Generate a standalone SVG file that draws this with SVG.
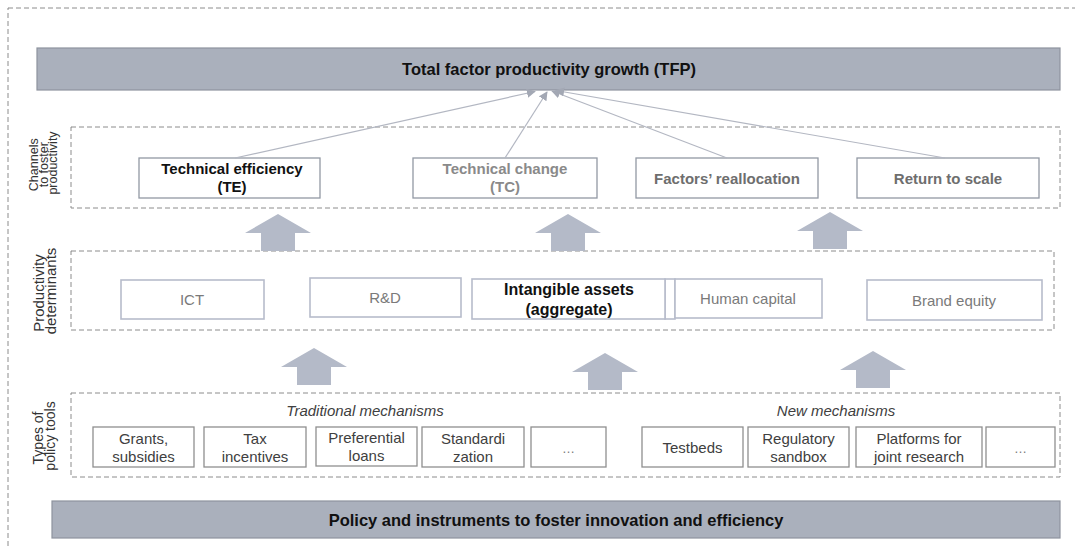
<svg xmlns="http://www.w3.org/2000/svg" width="1075" height="548" viewBox="0 0 1075 548">
  <style>
    text { font-family: "Liberation Sans", Arial, sans-serif; }
    .bar { fill: #aab0bc; stroke: #8e939e; stroke-width: 1.2; }
    .bar-label { font-size: 16.5px; font-weight: bold; fill: #111; text-anchor: middle; }
    .group { fill: none; stroke: #8c8c8c; stroke-width: 1; stroke-dasharray: 5 3; }
    .side { font-size: 13px; fill: #333; text-anchor: middle; }
    .channel { fill: #fff; stroke: #9299a4; stroke-width: 1.3; }
    .ch-text { font-size: 15px; font-weight: bold; text-anchor: middle; }
    .det { fill: #fff; stroke: #b7bccb; stroke-width: 1.6; }
    .det-text { font-size: 15px; fill: #7a7a7a; text-anchor: middle; }
    .tool { fill: #fff; stroke: #8f8f8f; stroke-width: 1.3; }
    .tool-text { font-size: 15px; fill: #404040; text-anchor: middle; }
    .dots { font-size: 13px; fill: #7a7a7a; text-anchor: middle; }
    .mech { font-size: 15px; font-style: italic; fill: #404040; text-anchor: middle; }
    .link { stroke: #b3b7c2; stroke-width: 1.2; fill: none; marker-end: url(#tip); }
    .block { fill: #b4bac8; }
  </style>
  <defs>
    <marker id="tip" viewBox="0 0 10 10" refX="9" refY="5" markerWidth="9" markerHeight="9" markerUnits="userSpaceOnUse" orient="auto">
      <path d="M0,0 L10,5 L0,10 z" fill="#a3a8b4"/>
    </marker>
  </defs>

  <!-- outer frame -->
  <rect x="8" y="8" width="1085" height="560" class="group"/>

  <!-- top result bar -->
  <g id="tfp">
    <rect x="37" y="48" width="1023" height="42" class="bar"/>
    <text x="549" y="75" class="bar-label">Total factor productivity growth (TFP)</text>
  </g>

  <!-- channels band -->
  <g id="channels">
    <rect x="71" y="127" width="989" height="81" class="group"/>
    <text class="side" transform="translate(0,163) rotate(-90)" style="font-size:12.5px">
      <tspan x="0" y="38">Channels</tspan>
      <tspan x="0" y="47.5">to foster</tspan>
      <tspan x="0" y="57">productivity</tspan>
    </text>
  </g>

  <g id="te">
    <rect x="139" y="158" width="181" height="40" class="channel"/>
    <text class="ch-text" fill="#111"><tspan x="232" y="174">Technical efficiency</tspan><tspan x="232" y="192">(TE)</tspan></text>
  </g>
  <g id="tc">
    <rect x="413" y="158" width="184" height="40" class="channel"/>
    <text class="ch-text" fill="#8a8a8a"><tspan x="505" y="174">Technical change</tspan><tspan x="505" y="192">(TC)</tspan></text>
  </g>
  <g id="reallocation">
    <rect x="636" y="158" width="182" height="40" class="channel"/>
    <text x="727" y="184" class="ch-text" fill="#6e6e6e">Factors’ reallocation</text>
  </g>
  <g id="scale">
    <rect x="857" y="158" width="182" height="40" class="channel"/>
    <text x="948" y="184" class="ch-text" fill="#6e6e6e">Return to scale</text>
  </g>

  <!-- determinants band -->
  <g id="determinants">
    <rect x="71" y="251" width="983" height="79" class="group"/>
    <text class="side" transform="translate(0,291) rotate(-90)" style="font-size:15px">
      <tspan x="0" y="44">Productivity</tspan>
      <tspan x="0" y="56">determinants</tspan>
    </text>
  </g>

  <g id="ict">
    <rect x="121" y="280" width="143" height="39" class="det"/>
    <text x="192" y="305" class="det-text">ICT</text>
  </g>
  <g id="rd">
    <rect x="310" y="278" width="151" height="39" class="det"/>
    <text x="385" y="303" class="det-text">R&amp;D</text>
  </g>
  <g id="intangible">
    <rect x="665" y="279" width="10" height="40" class="det"/>
    <rect x="472" y="279" width="193" height="40" class="det"/>
    <text class="ch-text" fill="#111" style="font-size:16px"><tspan x="569" y="295">Intangible assets</tspan><tspan x="569" y="314.5">(aggregate)</tspan></text>
  </g>
  <g id="human">
    <rect x="675" y="279" width="147" height="39" class="det"/>
    <text x="748" y="304" class="det-text">Human capital</text>
  </g>
  <g id="brand">
    <rect x="867" y="280" width="175" height="40" class="det"/>
    <text x="954" y="306" class="det-text">Brand equity</text>
  </g>

  <!-- policy tools band -->
  <g id="tools">
    <rect x="71" y="393" width="989" height="84" class="group"/>
    <text class="side" transform="translate(0,436) rotate(-90)" style="font-size:14px">
      <tspan x="0" y="43">Types of</tspan>
      <tspan x="0" y="55">policy tools</tspan>
    </text>
    <text x="365" y="416" class="mech">Traditional mechanisms</text>
    <text x="836" y="416" class="mech">New mechanisms</text>
  </g>

  <g id="grants">
    <rect x="93" y="427" width="101" height="40" class="tool"/>
    <text class="tool-text"><tspan x="143.5" y="444">Grants,</tspan><tspan x="143.5" y="462">subsidies</tspan></text>
  </g>
  <g id="tax">
    <rect x="204" y="427" width="102" height="40" class="tool"/>
    <text class="tool-text"><tspan x="255" y="444">Tax</tspan><tspan x="255" y="462">incentives</tspan></text>
  </g>
  <g id="loans">
    <rect x="316" y="427" width="101" height="39" class="tool"/>
    <text class="tool-text"><tspan x="366.5" y="443">Preferential</tspan><tspan x="366.5" y="461">loans</tspan></text>
  </g>
  <g id="standardization">
    <rect x="422" y="427" width="102" height="40" class="tool"/>
    <text class="tool-text"><tspan x="473" y="444">Standardi</tspan><tspan x="473" y="462">zation</tspan></text>
  </g>
  <g id="more-traditional">
    <rect x="531" y="427" width="75" height="40" class="tool"/>
    <text x="568.5" y="453" class="dots">…</text>
  </g>
  <g id="testbeds">
    <rect x="642" y="427" width="101" height="40" class="tool"/>
    <text x="692.5" y="453" class="tool-text">Testbeds</text>
  </g>
  <g id="sandbox">
    <rect x="748" y="427" width="101" height="40" class="tool"/>
    <text class="tool-text"><tspan x="798.5" y="444">Regulatory</tspan><tspan x="798.5" y="462">sandbox</tspan></text>
  </g>
  <g id="platforms">
    <rect x="856" y="427" width="126" height="40" class="tool"/>
    <text class="tool-text"><tspan x="919" y="444">Platforms for</tspan><tspan x="919" y="462">joint research</tspan></text>
  </g>
  <g id="more-new">
    <rect x="986" y="427" width="69" height="40" class="tool"/>
    <text x="1020.5" y="453" class="dots">…</text>
  </g>

  <!-- base bar -->
  <g id="policy">
    <rect x="52" y="501" width="1008" height="37" class="bar"/>
    <text x="556" y="526" class="bar-label">Policy and instruments to foster innovation and efficiency</text>
  </g>

  <!-- connectors -->
  <g id="connectors">
    <line x1="235" y1="158" x2="535" y2="91.5" class="link"/>
    <line x1="505" y1="158" x2="547" y2="92" class="link"/>
    <line x1="727" y1="158" x2="552" y2="91" class="link"/>
    <line x1="945" y1="158" x2="556" y2="90.5" class="link"/>

    <!-- broad upward arrows between bands -->
    <polygon class="block" points="278,214 311,233 295,233 295,251 261,251 261,233 245,233"/>
    <polygon class="block" points="568,214 601,233 585,233 585,251 551,251 551,233 535,233"/>
    <polygon class="block" points="830,212 863,231 847,231 847,249 813,249 813,231 797,231"/>
    <polygon class="block" points="314,348 347,367 331,367 331,385 297,385 297,367 281,367"/>
    <polygon class="block" points="605,353 638,372 622,372 622,390 588,390 588,372 572,372"/>
    <polygon class="block" points="873,351 906,370 890,370 890,388 856,388 856,370 840,370"/>
  </g>
</svg>
